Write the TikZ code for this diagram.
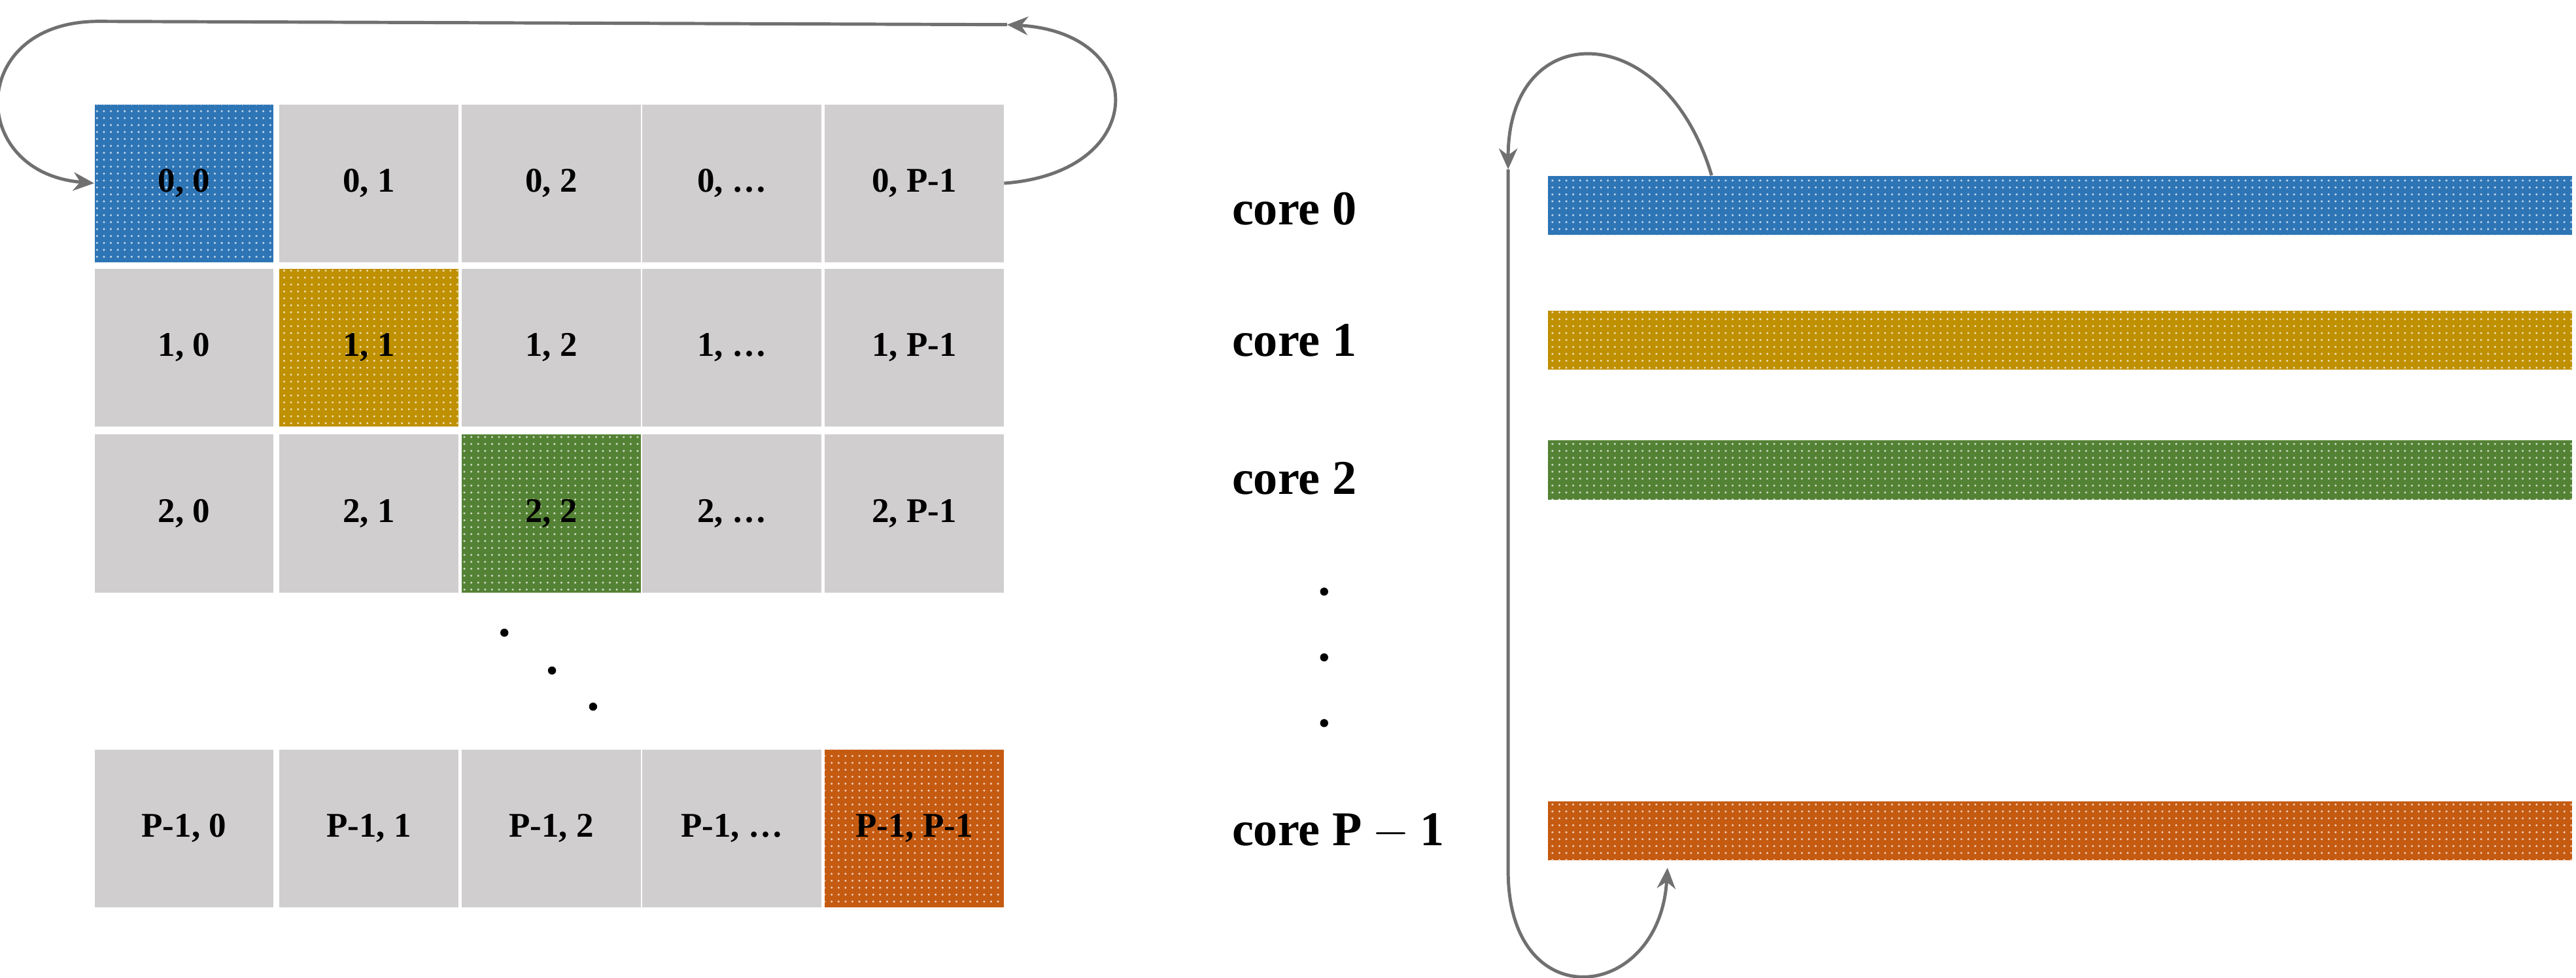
\documentclass[tikz,border=0pt]{standalone}
\usepackage{fontspec}
\setmainfont{Liberation Serif}
\usetikzlibrary{patterns,arrows.meta}
\definecolor{cblue}{HTML}{2E75B6}
\definecolor{cgold}{HTML}{BF9000}
\definecolor{cgreen}{HTML}{548235}
\definecolor{corange}{HTML}{C55A11}
\definecolor{cgray}{HTML}{D0CECE}
\definecolor{aline}{HTML}{707070}
\tikzset{
  cell/.style={minimum width=2.72cm, minimum height=2.4cm, inner sep=0pt, fill=cgray,
    font=\fontsize{15}{18}\selectfont\bfseries},
  hot/.style={fill=#1, postaction={pattern=dots, pattern color=white!70!#1}},
  bar/.style={minimum width=15.575cm, minimum height=0.9cm, inner sep=0pt, anchor=west},
  corelabel/.style={anchor=west, font=\fontsize{21}{25}\selectfont\bfseries},
  loop/.style={draw=aline, line width=1.4pt, -{Stealth[length=9pt,width=8pt]}},
  dot/.style={circle, fill=black, inner sep=0pt, minimum size=3.5pt}
}
\begin{document}
\begin{tikzpicture}[x=0.025cm,y=-0.025cm]
\useasboundingbox (0,0) rectangle (1568,595);
% matrix of blocks
\foreach \r/\y/\rl in {0/111.5/0,1/211.5/1,2/312.5/2,3/504/P-1}
  \foreach \c/\x/\cl in {0/112/0,1/224.5/1,2/335.5/2,3/445.5/\dots,4/556.5/P-1}
    \node[cell] (c\r\c) at (\x,\y) {\rl, \cl};
\node[cell,hot=cblue] at (c00) {0, 0};
\node[cell,hot=cgold] at (c11) {1, 1};
\node[cell,hot=cgreen] at (c22) {2, 2};
\node[cell,hot=corange] at (c34) {P-1, P-1};
\node[dot] (d1) at (307,385) {};
\node[dot] (d2) at (336,408) {};
\node[dot] (d3) at (361,430) {};
% wrap-around arrows
\coordinate (topr) at (613,15);
\draw[loop] (c04.east) .. controls (700,105) and (700,20) .. (topr);
\draw[loop] (topr) -- (60,13) .. controls (-20,13) and (-20,105) .. (c00.west);
% cores
\foreach \i/\y/\col in {0/125/cblue,1/207/cgold,2/286/cgreen,3/505.5/corange}
  \node[bar,hot=\col] (b\i) at (942,\y) {};
\node[corelabel] (l0) at (745,127) {core 0};
\node[corelabel] (l1) at (745,207) {core 1};
\node[corelabel] (l2) at (745,291) {core 2};
\node[corelabel] (l3) at (745,506) {core $\mathbf{P}-\mathbf{1}$};
\node[dot] (e1) at (806,360) {};
\node[dot] (e2) at (806,400) {};
\node[dot] (e3) at (806,440) {};
\coordinate (vtop) at (918,103);
\coordinate (vbot) at (1015,528);
\draw[loop] ([xshift=71]b0.north west) .. controls (1013,10) and (918,10) .. (vtop);
\draw[loop] (vtop) -- (918,530) .. controls (918,620) and (1010,610) .. (vbot);
\end{tikzpicture}
\end{document}
